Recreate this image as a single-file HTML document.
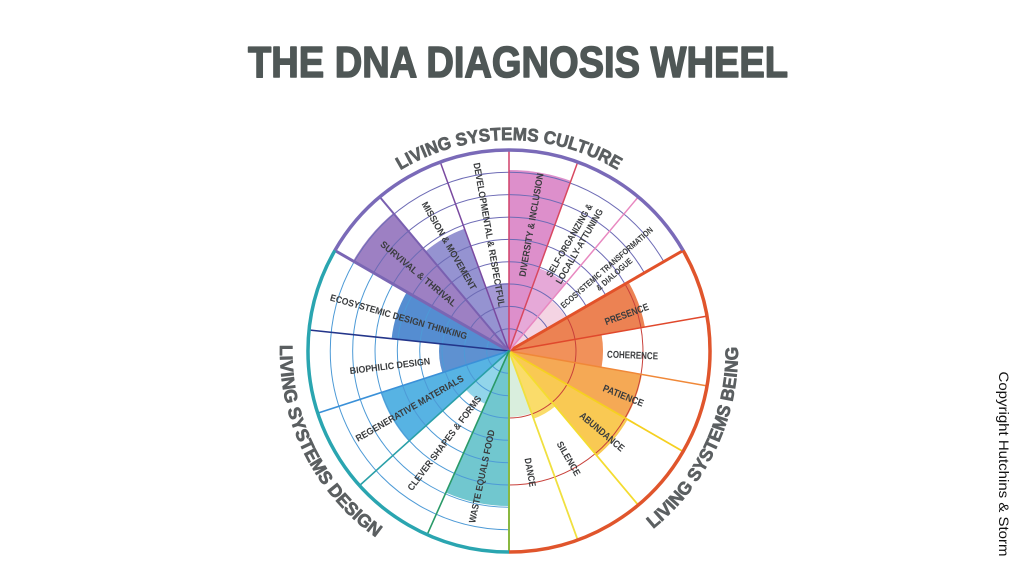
<!DOCTYPE html>
<html>
<head>
<meta charset="utf-8">
<style>
html,body{margin:0;padding:0;background:#fff;}
svg{display:block;}
.lbl{font-family:"Liberation Sans",sans-serif;font-weight:bold;font-size:9.5px;fill:#3a3c3e;}
.big{font-family:"Liberation Sans",sans-serif;font-weight:bold;font-size:18px;fill:#5b5f61;}
</style>
</head>
<body>
<svg width="1024" height="575" viewBox="0 0 1024 575" xmlns="http://www.w3.org/2000/svg">
<defs>
<linearGradient id="ul" x1="0" x2="1" y1="0" y2="0">
<stop offset="0" stop-color="#888"/>
<stop offset="0.4" stop-color="#555"/>
<stop offset="0.8" stop-color="#888"/>
<stop offset="1" stop-color="#ddd"/>
</linearGradient>
<path id="pc" d="M326.3,245.5 A211,211 0 0 1 691.7,245.5"/>
<path id="pd" d="M318.0,224.6 A229,229 0 0 0 495.0,579.6"/>
<path id="pb" d="M529,579.1 A229,229 0 0 0 696.6,219.6"/>
</defs>

<!-- Title -->
<text x="248" y="77" font-family="Liberation Sans, sans-serif" font-weight="bold" font-size="44" fill="#4f5756" stroke="#4f5756" stroke-width="1.5" stroke-linejoin="round" textLength="540" lengthAdjust="spacingAndGlyphs">THE DNA DIAGNOSIS WHEEL</text>
<line x1="376" y1="91.5" x2="838" y2="91.5" stroke="url(#ul)" stroke-width="1.4"/>

<!-- Fills -->
<g fill-opacity="0.9">
<path d="M509,351 L393.3,213.1 A180,180 0 0 0 353.1,261.0 Z" fill="#9272bd"/>
<path d="M509,351 L464.5,228.8 A130,130 0 0 0 425.4,251.4 Z" fill="#8a87cc"/>
<path d="M509,351 L509,283 A68,68 0 0 0 485.7,287.1 Z" fill="#9b8fd0"/>
<path d="M509,351 L570.9,180.9 A181,181 0 0 0 509,170 Z" fill="#d983c5"/>
<path d="M509,351 L565.6,283.6 A88,88 0 0 0 539.1,268.3 Z" fill="#e3a0d4"/>
<path d="M509,351 L566.2,318 A66,66 0 0 0 551.4,300.4 Z" fill="#f3cfe0"/>
<path d="M509,351 L644.9,327 A138,138 0 0 0 628.5,282 Z" fill="#ea7440"/>
<path d="M509,351 L601.6,367.3 A94,94 0 0 0 601.6,334.7 Z" fill="#ef8548"/>
<path d="M509,351 L625.9,418.5 A135,135 0 0 0 641.9,374.4 Z" fill="#f4a042"/>
<path d="M509,351 L597.1,455.9 A137,137 0 0 0 627.6,419.5 Z" fill="#f8c340"/>
<path d="M509,351 L533.6,418.7 A72,72 0 0 0 555.3,406.2 Z" fill="#f9d85a"/>
<path d="M509,351 L509,417 A66,66 0 0 0 531.6,413 Z" fill="#d5ecd9"/>
<path d="M509,351 L446,492.6 A155,155 0 0 0 509,506 Z" fill="#62c1ca"/>
<path d="M509,351 L465.9,389.8 A58,58 0 0 0 485.4,404 Z" fill="#86d0e8"/>
<path d="M509,351 L380.6,392.7 A135,135 0 0 0 408.7,441.3 Z" fill="#45abe0"/>
<path d="M509,351 L439.4,343.7 A70,70 0 0 0 442.4,372.6 Z" fill="#4c85cc"/>
<path d="M509,351 L406.8,292 A118,118 0 0 0 391.6,338.7 Z" fill="#4281cc"/>
</g>

<!-- Rings: culture -->
<g fill="none" stroke="#6d6bb5" stroke-width="1">
<path d="M528.3,339.85 A22.3,22.3 0 0 0 489.7,339.85"/>
<path d="M547.7,328.65 A44.7,44.7 0 0 0 470.3,328.65"/>
<path d="M567.0,317.5 A67,67 0 0 0 451.0,317.5"/>
<path d="M586.3,306.35 A89.3,89.3 0 0 0 431.7,306.35"/>
<path d="M605.7,295.15 A111.7,111.7 0 0 0 412.3,295.15"/>
<path d="M625.0,284 A134,134 0 0 0 393.0,284"/>
<path d="M644.4,272.85 A156.3,156.3 0 0 0 373.6,272.85"/>
<path d="M663.8,261.65 A178.7,178.7 0 0 0 354.2,261.65"/>
</g>
<!-- Rings: design -->
<g fill="none" stroke="#4d9ad6" stroke-width="1">
<path d="M489.7,339.85 A22.3,22.3 0 0 0 509,373.3"/>
<path d="M470.3,328.65 A44.7,44.7 0 0 0 509,395.7"/>
<path d="M451.0,317.5 A67,67 0 0 0 509,418"/>
<path d="M431.7,306.35 A89.3,89.3 0 0 0 509,440.3"/>
<path d="M412.3,295.15 A111.7,111.7 0 0 0 509,462.7"/>
<path d="M393,284 A134,134 0 0 0 509,485"/>
<path d="M373.6,272.85 A156.3,156.3 0 0 0 509,507.3"/>
<path d="M354.2,261.65 A178.7,178.7 0 0 0 509,529.7"/>
</g>
<!-- Rings: being -->
<g fill="none" stroke="#c8403a" stroke-width="1">
<path d="M509,418 A67,67 0 0 0 567,317.5"/>
<path d="M509,485 A134,134 0 0 0 625,284"/>
</g>

<!-- Sector lines -->
<g fill="none" stroke-linecap="round">
<line x1="509" y1="351" x2="683.1" y2="250.5" stroke="#e2522a" stroke-width="3"/>
<line x1="509" y1="351" x2="706.9" y2="316.1" stroke="#e0482c" stroke-width="1.5"/>
<line x1="509" y1="351" x2="706.9" y2="385.9" stroke="#f08838" stroke-width="1.5"/>
<line x1="509" y1="351" x2="683.1" y2="451.5" stroke="#f5d020" stroke-width="1.8"/>
<line x1="509" y1="351" x2="638.2" y2="505.0" stroke="#f4dc30" stroke-width="1.8"/>
<line x1="509" y1="351" x2="577.7" y2="539.9" stroke="#f0e040" stroke-width="1.8"/>
<line x1="509" y1="351" x2="509" y2="552" stroke="#8ab840" stroke-width="2"/>
<line x1="509" y1="351" x2="638.2" y2="197.0" stroke="#e888c0" stroke-width="1.5"/>
<line x1="509" y1="351" x2="577.7" y2="162.1" stroke="#d84860" stroke-width="1.5"/>
<line x1="509" y1="351" x2="509" y2="150" stroke="#d0406a" stroke-width="1.5"/>
<line x1="509" y1="351" x2="440.3" y2="162.1" stroke="#7a4aa0" stroke-width="1.5"/>
<line x1="509" y1="351" x2="379.8" y2="197.0" stroke="#7a60b0" stroke-width="2"/>
<line x1="509" y1="351" x2="334.9" y2="250.5" stroke="#7a66b4" stroke-width="3"/>
<line x1="509" y1="351" x2="309.1" y2="330.0" stroke="#23358a" stroke-width="1.6"/>
<line x1="509" y1="351" x2="317.8" y2="413.1" stroke="#3a90d8" stroke-width="1.6"/>
<line x1="509" y1="351" x2="359.6" y2="485.5" stroke="#2aa0a8" stroke-width="1.6"/>
<line x1="509" y1="351" x2="427.2" y2="534.6" stroke="#2a9a68" stroke-width="1.6"/>
</g>

<!-- Outer arcs -->
<g fill="none" stroke-width="3.5">
<path d="M683.1,250.5 A201,201 0 0 0 334.9,250.5" stroke="#7a6ab8"/>
<path d="M334.9,250.5 A201,201 0 0 0 509,552" stroke="#2aa5b0"/>
<path d="M509,552 A201,201 0 0 0 683.1,250.5" stroke="#e0552c"/>
</g>

<!-- Sector labels -->
<g class="lbl" text-anchor="middle" dominant-baseline="central">
<text transform="translate(488.5,234.8) rotate(80)" textLength="146" lengthAdjust="spacingAndGlyphs">DEVELOPMENTAL &amp; RESPECTFUL</text>
<text transform="translate(448.5,246.2) rotate(60)" textLength="100" lengthAdjust="spacingAndGlyphs">MISSION &amp; MOVEMENT</text>
<text transform="translate(418,274.3) rotate(40)" textLength="96" lengthAdjust="spacingAndGlyphs">SURVIVAL &amp; THRIVAL</text>
<text transform="translate(532,225) rotate(-80)" textLength="105" lengthAdjust="spacingAndGlyphs">DIVERSITY &amp; INCLUSION</text>
<text transform="translate(570,240.8) rotate(-60)" textLength="83" lengthAdjust="spacingAndGlyphs">SELF-ORGANIZING &amp;</text>
<text transform="translate(580,246.7) rotate(-60)" textLength="85" lengthAdjust="spacingAndGlyphs">LOCALLY-ATTUNING</text>
<text transform="translate(606.7,267.5) rotate(-41)" textLength="119" lengthAdjust="spacingAndGlyphs" font-size="8.5">ECOSYSTEMIC TRANSFORMATION</text>
<text transform="translate(614.2,274.2) rotate(-41)" textLength="45" lengthAdjust="spacingAndGlyphs" font-size="8.5">&amp; DIALOGUE</text>
<text transform="translate(627,315) rotate(-20)" textLength="46" lengthAdjust="spacingAndGlyphs" font-size="10">PRESENCE</text>
<text transform="translate(632.5,356) rotate(2)" textLength="51" lengthAdjust="spacingAndGlyphs" font-size="10">COHERENCE</text>
<text transform="translate(623,396.5) rotate(22)" textLength="43" lengthAdjust="spacingAndGlyphs" font-size="10">PATIENCE</text>
<text transform="translate(601.5,432.5) rotate(40)" textLength="55" lengthAdjust="spacingAndGlyphs" font-size="10">ABUNDANCE</text>
<text transform="translate(568,459) rotate(60)" textLength="38" lengthAdjust="spacingAndGlyphs">SILENCE</text>
<text transform="translate(529.5,472.5) rotate(80)" textLength="29" lengthAdjust="spacingAndGlyphs">DANCE</text>
<text transform="translate(482.5,476.5) rotate(-78)" textLength="95" lengthAdjust="spacingAndGlyphs">WASTE EQUALS FOOD</text>
<text transform="translate(445,443.5) rotate(-53)" textLength="116" lengthAdjust="spacingAndGlyphs">CLEVER SHAPES &amp; FORMS</text>
<text transform="translate(410,409) rotate(-30)" textLength="123" lengthAdjust="spacingAndGlyphs">REGENERATIVE MATERIALS</text>
<text transform="translate(390,366.7) rotate(-7)" textLength="81" lengthAdjust="spacingAndGlyphs">BIOPHILIC DESIGN</text>
<text transform="translate(398.5,317.5) rotate(16)" textLength="142" lengthAdjust="spacingAndGlyphs">ECOSYSTEMIC DESIGN THINKING</text>
</g>

<!-- Section labels -->
<text class="big" stroke="#5b5f61" stroke-width="0.7" stroke-linejoin="round"><textPath href="#pc" startOffset="50%" text-anchor="middle" textLength="228" lengthAdjust="spacingAndGlyphs">LIVING SYSTEMS CULTURE</textPath></text>
<text class="big" stroke="#5b5f61" stroke-width="0.7" stroke-linejoin="round"><textPath href="#pd" startOffset="50%" text-anchor="middle" textLength="224" lengthAdjust="spacingAndGlyphs">LIVING SYSTEMS DESIGN</textPath></text>
<text class="big" stroke="#5b5f61" stroke-width="0.7" stroke-linejoin="round"><textPath href="#pb" startOffset="50%" text-anchor="middle" textLength="208" lengthAdjust="spacingAndGlyphs">LIVING SYSTEMS BEING</textPath></text>

<!-- Copyright -->
<text transform="translate(1004,464) rotate(90)" text-anchor="middle" dominant-baseline="central" font-family="Liberation Sans, sans-serif" font-size="14" fill="#111" textLength="185" lengthAdjust="spacingAndGlyphs">Copyright Hutchins &amp; Storm</text>
</svg>
</body>
</html>
